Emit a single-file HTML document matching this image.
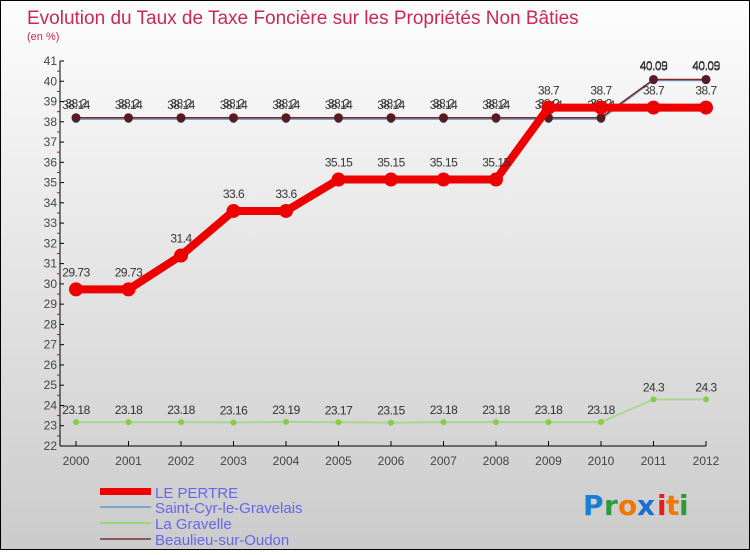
<!DOCTYPE html>
<html><head><meta charset="utf-8"><style>
html,body{margin:0;padding:0}
body{width:750px;height:550px;overflow:hidden;font-family:"Liberation Sans",sans-serif}
</style></head><body>
<svg width="750" height="550" viewBox="0 0 750 550" id="c">
<defs><linearGradient id="bg" x1="0" y1="0" x2="0" y2="1"><stop offset="0" stop-color="#fdfdfd"/><stop offset="1" stop-color="#cbcbcb"/></linearGradient></defs>
<rect x="0.5" y="0.5" width="749" height="549" fill="url(#bg)" stroke="#000"/>
<text x="27" y="24" font-size="19" fill="#c8285a">Evolution du Taux de Taxe Foncière sur les Propriétés Non Bâties</text>
<text x="27" y="40" font-size="11" fill="#c8285a">(en %)</text>
<g id="axes"></g><g id="series"></g>
<g>
<rect x="100" y="488" width="51" height="7" fill="#ee0000"/>
<text x="155" y="498" font-size="15" fill="#6666ee">LE PERTRE</text>
<rect x="100" y="506" width="51" height="2" fill="#7ba6c8"/>
<text x="155" y="513" font-size="15" fill="#6666ee">Saint-Cyr-le-Gravelais</text>
<rect x="100" y="522" width="51" height="2" fill="#99d67a"/>
<text x="155" y="529" font-size="15" fill="#6666ee">La Gravelle</text>
<rect x="100" y="538" width="51" height="2" fill="#8a5a5a"/>
<text x="155" y="545" font-size="15" fill="#6666ee">Beaulieu-sur-Oudon</text>
</g>
<g font-size="28" font-family="DejaVu Sans,sans-serif" font-weight="bold">
<text x="583" y="515" fill="#1a7fd4">P</text><text x="604" y="515" fill="#2a9a3a">r</text><text x="618" y="515" fill="#f07800">o</text><text x="637" y="515" fill="#1a6fd0">x</text><text x="657" y="515" fill="#e02020">i</text><text x="666" y="515" fill="#f07800">t</text><text x="679" y="515" fill="#2a9a3a">i</text>
</g>
</svg>
<script>
const years=["2000","2001","2002","2003","2004","2005","2006","2007","2008","2009","2010","2011","2012"];
const yTicks=[22,23,24,25,26,27,28,29,30,31,32,33,34,35,36,37,38,39,40,41];
const lePertre=[29.73,29.73,31.4,33.6,33.6,35.15,35.15,35.15,35.15,38.7,38.7,38.7,38.7];
const saintCyr=[38.14,38.14,38.14,38.14,38.14,38.14,38.14,38.14,38.14,38.14,38.14,40.05,40.05];
const laGravelle=[23.18,23.18,23.18,23.16,23.19,23.17,23.15,23.18,23.18,23.18,23.18,24.3,24.3];
const beaulieu=[38.2,38.2,38.2,38.2,38.2,38.2,38.2,38.2,38.2,38.2,38.2,40.09,40.09];
const NS="http://www.w3.org/2000/svg";
const X=i=>76+i*52.5;
const Y=v=>446-(v-22)*(385/19);
function mk(tag,at,parent){const e=document.createElementNS(NS,tag);for(const k in at)e.setAttribute(k,at[k]);parent.appendChild(e);return e;}
const ax=document.getElementById('axes');
const yl=mk('line',{x1:60,y1:61,x2:60,y2:446,stroke:'#000'},ax);


const xl=mk('line',{x1:60,y1:446,x2:706,y2:446,stroke:'#000'},ax);


yTicks.forEach((v,i)=>{
 mk('line',{x1:60,y1:Y(v),x2:64,y2:Y(v),stroke:'#000'},ax);
 const t=mk('text',{x:57,y:Y(v)+4,'text-anchor':'end','font-size':12,fill:'#444'},ax);
 t.textContent=v;
 
 
 if(i<yTicks.length-1) mk('line',{x1:57,y1:Y(v+0.5),x2:60,y2:Y(v+0.5),stroke:'#e00000'},ax);
});
years.forEach((y,i)=>{
 mk('line',{x1:X(i),y1:441,x2:X(i),y2:446,stroke:'#000'},ax);
 const t=mk('text',{x:X(i),y:465,'text-anchor':'middle','font-size':12,fill:'#444'},ax);
 t.textContent=y;
 
 
});
const sg=document.getElementById('series');
function series(vals,name,color,w,r,dot,dy){
 const g=mk('g',{},sg);
 
 
 const pl=mk('polyline',{points:vals.map((v,i)=>X(i)+','+Y(v)).join(' '),fill:'none',stroke:color,'stroke-width':w,'stroke-linejoin':'round'},g);
 
 
 vals.forEach((v,i)=>{
  const c=mk('circle',{cx:X(i),cy:Y(v),r:r,fill:dot},g);
  
  
  const t=mk('text',{x:X(i),y:Y(v)+dy,'text-anchor':'middle','font-size':12,fill:'#333','letter-spacing':'-0.5'},g);
  t.textContent=v;
  
  
 });
}
series(laGravelle,'la-gravelle','#a8d890',2,3,'#88cc44',-8);
series(saintCyr,'saint-cyr','#7ba6c8',2,4,'#2a6a9a',-10);
series(beaulieu,'beaulieu','#7a2a2a',1.5,4.5,'#5a1a22',-10);
series(lePertre,'le-pertre','#ee0000',8,7,'#ee0000',-13);
</script>
</body></html>
